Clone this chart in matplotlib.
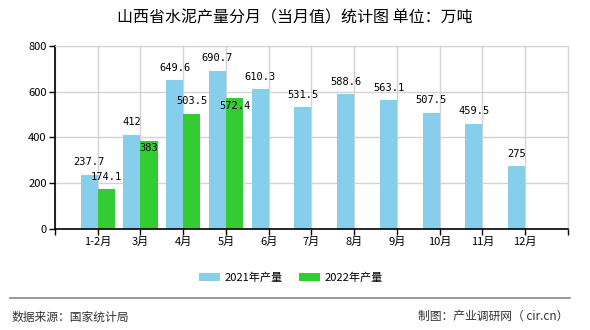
import matplotlib
matplotlib.use("Agg")
import matplotlib.pyplot as plt
import numpy as np

plt.rcParams['font.family'] = ['Noto Sans CJK SC', 'DejaVu Sans']

months = ['1-2月', '3月', '4月', '5月', '6月', '7月', '8月', '9月', '10月', '11月', '12月']
y2021 = [237.7, 412, 649.6, 690.7, 610.3, 531.5, 588.6, 563.1, 507.5, 459.5, 275]
y2022 = [174.1, 383, 503.5, 572.4]

fig = plt.figure(figsize=(5.9, 3.3), dpi=100)
ax = fig.add_axes([0.0932, 0.306, 0.8695, 0.555])

x = np.arange(1, len(months) + 1)
w = 0.4
blue = '#87CEEB'
green = '#33CC33'

ax.bar(x - w / 2, y2021, width=w, color=blue, label='2021年产量', zorder=2)
ax.bar(x[:len(y2022)] + w / 2, y2022, width=w, color=green, label='2022年产量', zorder=2)

# value labels
for xi, v in zip(x, y2021):
    ax.annotate(f'{v:g}', (xi - w / 2, v), xytext=(0, 9), textcoords='offset points',
                ha='center', va='center', fontsize=7.5, family='DejaVu Sans Mono')
# some green labels sit inside the bar in the original (overlap avoidance)
green_off = [9, -5, 9, -6]
for xi, v, off in zip(x, y2022, green_off):
    ax.annotate(f'{v:g}', (xi + w / 2, v), xytext=(0, off), textcoords='offset points',
                ha='center', va='center', fontsize=7.5, family='DejaVu Sans Mono')

ax.set_xlim(0, 12)
ax.set_ylim(0, 800)
ax.set_yticks([0, 200, 400, 600, 800])
ax.set_xticks(range(0, 13))
ax.set_xticklabels([''] + months + [''])
ax.tick_params(axis='both', labelsize=8, length=4, width=1, pad=2)
ax.grid(True, color='#d3d3d3', linewidth=1, zorder=0)
ax.set_axisbelow(True)
for s in ['top', 'right']:
    ax.spines[s].set_color('#d3d3d3')
for s in ['left', 'bottom']:
    ax.spines[s].set_color('black')
    ax.spines[s].set_linewidth(1.2)

fig.text(0.5, 0.945, '山西省水泥产量分月（当月值）统计图 单位：万吨', ha='center', va='center',
         fontsize=11.5)

fig.legend(loc='center', bbox_to_anchor=(0.493, 0.158), ncol=2, frameon=False, fontsize=8,
           handlelength=1.9, handleheight=0.7, columnspacing=1.45, handletextpad=0.45)

fig.add_artist(plt.Line2D([0.017, 0.966], [0.097, 0.097], color='#888888', linewidth=1.2))
fig.text(0.02, 0.04, '数据来源：国家统计局', ha='left', va='center', fontsize=8.5, color='#333333')
fig.text(0.964, 0.04, '制图：产业调研网（ cir.cn）', ha='right', va='center', fontsize=8.5,
         color='#333333')

fig.savefig('out.png', dpi=100)
